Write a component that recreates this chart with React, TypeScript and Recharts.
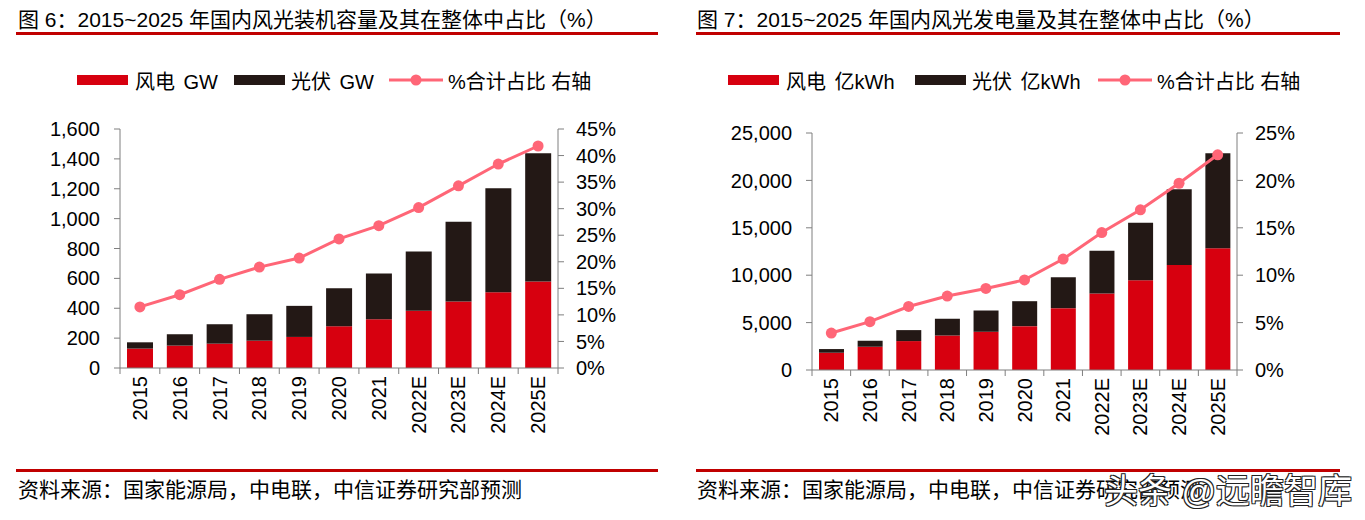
import React from 'react';
import { ComposedChart, Bar, Line, XAxis, YAxis } from 'recharts';

const years = ['2015', '2016', '2017', '2018', '2019', '2020', '2021', '2022E', '2023E', '2024E', '2025E'];

// 图6 装机容量 GW
const windCapacity = [130, 150, 163, 183, 208, 279, 326, 384, 445, 507, 579];
const solarCapacity = [42, 76, 130, 177, 208, 255, 306, 396, 534, 697, 858];
const capacityShare = [11.5, 13.8, 16.7, 19.0, 20.7, 24.3, 26.8, 30.2, 34.3, 38.4, 41.8];

// 图7 发电量 亿kWh
const windGeneration = [1823, 2454, 3050, 3647, 4032, 4628, 6522, 8065, 9467, 11080, 12833];
const solarGeneration = [386, 632, 1158, 1753, 2244, 2630, 3261, 4523, 6066, 7994, 10028];
const generationShare = [3.9, 5.1, 6.7, 7.8, 8.6, 9.5, 11.7, 14.5, 16.9, 19.7, 22.7];

const capacityTicks = [0, 200, 400, 600, 800, 1000, 1200, 1400, 1600];
const capacityShareTicks = [0, 5, 10, 15, 20, 25, 30, 35, 40, 45];
const generationTicks = [0, 5000, 10000, 15000, 20000, 25000];
const generationShareTicks = [0, 5, 10, 15, 20, 25];

const RED = '#D7000F';
const BLACK = '#231815';
const PINK = '#FF6677';
const AXIS = '#7f7f7f';
const RULE = '#C00000';
const FONT = '"Liberation Sans", Arial, "Noto Sans CJK SC", sans-serif';

const capacityData = years.map((year, i) => ({
  year,
  wind: windCapacity[i],
  solar: solarCapacity[i],
  share: capacityShare[i],
}));

const generationData = years.map((year, i) => ({
  year,
  wind: windGeneration[i],
  solar: solarGeneration[i],
  share: generationShare[i],
}));

const fmtNum = (v: number) => v.toLocaleString('en-US');
const fmtPct = (v: number) => `${v}%`;

// x-axis tick: rotated label plus tick marks on the category boundaries
const makeYearTick = (step: number, count: number) => (props: any) => {
  const { x, y, payload, index } = props;
  return (
    <g>
      <line x1={x - step / 2} x2={x - step / 2} y1={y} y2={y + 6} stroke={AXIS} />
      {index === count - 1 && (
        <line x1={x + step / 2} x2={x + step / 2} y1={y} y2={y + 6} stroke={AXIS} />
      )}
      <text
        x={x}
        y={y + 8}
        transform={`rotate(-90, ${x}, ${y + 8})`}
        textAnchor="end"
        dominantBaseline="central"
        fontSize={20}
        fontFamily={FONT}
        fill="#000"
      >
        {payload.value}
      </text>
    </g>
  );
};

interface PanelProps {
  left: number;
  width: number;
  height: number;
  marginTop: number;
  leftAxisWidth: number;
  rightAxisWidth: number;
  barSize: number;
  data: any[];
  leftTicks: number[];
  rightTicks: number[];
}

const Panel: React.FC<PanelProps> = ({
  left, width, height, marginTop, leftAxisWidth, rightAxisWidth, barSize, data, leftTicks, rightTicks,
}) => {
  const plotWidth = width - leftAxisWidth - rightAxisWidth;
  const step = plotWidth / data.length;
  const tickStyle = { fontSize: 20, fontFamily: FONT, fill: '#000' };
  return (
    <div style={{ position: 'absolute', left, top: 110 }}>
      <ComposedChart
        width={width}
        height={height}
        data={data}
        margin={{ top: marginTop, right: 0, bottom: 12, left: 0 }}
      >
        <XAxis
          dataKey="year"
          height={60}
          interval={0}
          tickLine={false}
          tickSize={0}
          tickMargin={0}
          stroke={AXIS}
          tick={makeYearTick(step, data.length)}
        />
        <YAxis
          yAxisId="left"
          width={leftAxisWidth}
          domain={[leftTicks[0], leftTicks[leftTicks.length - 1]]}
          ticks={leftTicks}
          interval={0}
          tickFormatter={fmtNum}
          tickSize={6}
          tickMargin={14}
          stroke={AXIS}
          tick={tickStyle}
        />
        <YAxis
          yAxisId="right"
          orientation="right"
          width={rightAxisWidth}
          domain={[rightTicks[0], rightTicks[rightTicks.length - 1]]}
          ticks={rightTicks}
          interval={0}
          tickFormatter={fmtPct}
          tickSize={6}
          tickMargin={12}
          stroke={AXIS}
          tick={{ ...tickStyle, textAnchor: 'start' }}
        />
        <Bar yAxisId="left" dataKey="wind" stackId="a" fill={RED} barSize={barSize} isAnimationActive={false} />
        <Bar yAxisId="left" dataKey="solar" stackId="a" fill={BLACK} barSize={barSize} isAnimationActive={false} />
        <Line
          yAxisId="right"
          dataKey="share"
          stroke={PINK}
          strokeWidth={3}
          dot={{ r: 5.5, fill: PINK, stroke: PINK, strokeWidth: 0 }}
          isAnimationActive={false}
        />
      </ComposedChart>
    </div>
  );
};

const Swatch: React.FC<{ color: string }> = ({ color }) => (
  <span style={{ display: 'inline-block', width: 51, height: 10, background: color }} />
);

const LineSwatch: React.FC = () => (
  <svg width={54} height={12} style={{ display: 'block' }}>
    <line x1={0} x2={54} y1={6} y2={6} stroke={PINK} strokeWidth={3} />
    <circle cx={27} cy={6} r={5.5} fill={PINK} />
  </svg>
);

const Legend: React.FC<{ left: number; unit: string; widths: number[]; gaps: number[] }> = ({ left, unit, widths, gaps }) => (
  <div
    style={{
      position: 'absolute', left, top: 68, height: 24, display: 'flex', alignItems: 'center',
      fontSize: 20, fontFamily: FONT, whiteSpace: 'nowrap', color: '#000',
    }}
  >
    <Swatch color={RED} />
    <span style={{ marginLeft: 7, marginRight: gaps[0], width: widths[0], display: 'inline-block', wordSpacing: 3 }}>风电 {unit}</span>
    <Swatch color={BLACK} />
    <span style={{ marginLeft: 6, marginRight: gaps[1], width: widths[1], display: 'inline-block', wordSpacing: 3 }}>光伏 {unit}</span>
    <LineSwatch />
    <span style={{ marginLeft: 5 }}>%合计占比 右轴</span>
  </div>
);

const textBase: React.CSSProperties = {
  position: 'absolute', fontFamily: FONT, color: '#000', whiteSpace: 'nowrap', lineHeight: '24px',
};

export default function App() {
  return (
    <div style={{ position: 'absolute', left: 0, top: 0, width: 1365, height: 520, background: '#fff', overflow: 'hidden' }}>
      <div style={{ ...textBase, left: 18, top: 8, fontSize: 21 }}>图 6：2015~2025 年国内风光装机容量及其在整体中占比（%）</div>
      <div style={{ ...textBase, left: 697, top: 8, fontSize: 21 }}>图 7：2015~2025 年国内风光发电量及其在整体中占比（%）</div>
      <div style={{ position: 'absolute', left: 16, top: 32, width: 642, height: 3, background: RULE }} />
      <div style={{ position: 'absolute', left: 696, top: 32, width: 644, height: 3, background: RULE }} />

      <Legend left={77} unit="GW" widths={[83, 83]} gaps={[16, 15]} />
      <Legend left={728} unit="亿kWh" widths={[115, 113]} gaps={[14, 13]} />

      <Panel
        left={0}
        width={680}
        height={330}
        marginTop={19}
        leftAxisWidth={120}
        rightAxisWidth={122}
        barSize={26}
        data={capacityData}
        leftTicks={capacityTicks}
        rightTicks={capacityShareTicks}
      />
      <Panel
        left={690}
        width={675}
        height={332}
        marginTop={23}
        leftAxisWidth={122}
        rightAxisWidth={128}
        barSize={25}
        data={generationData}
        leftTicks={generationTicks}
        rightTicks={generationShareTicks}
      />

      <div style={{ position: 'absolute', left: 16, top: 469, width: 642, height: 3, background: RULE }} />
      <div style={{ position: 'absolute', left: 696, top: 469, width: 644, height: 3, background: RULE }} />
      <div style={{ ...textBase, left: 18, top: 478, fontSize: 21 }}>资料来源：国家能源局，中电联，中信证券研究部预测</div>
      <div style={{ ...textBase, left: 697, top: 478, fontSize: 21 }}>资料来源：国家能源局，中电联，中信证券研究部预测</div>
      <div
        style={{
          ...textBase, left: 1104, top: 472, fontSize: 34, lineHeight: '38px', color: '#fff',
          textShadow: '1px 1px 0 #222, -1px -1px 0 #222, 1px -1px 0 #222, -1px 1px 0 #222',
        }}
      >
        头条 @远瞻智库
      </div>
    </div>
  );
}
